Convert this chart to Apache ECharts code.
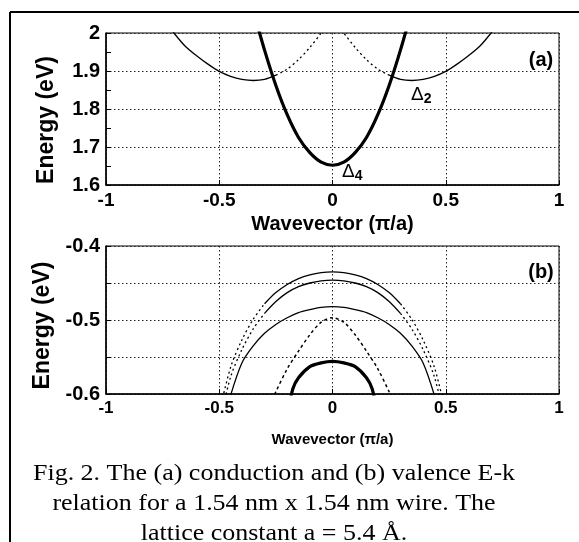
<!DOCTYPE html>
<html>
<head>
<meta charset="utf-8">
<script src="https://cdn.jsdelivr.net/npm/echarts@6/dist/echarts.min.js"></script>
<style>
  html, body { margin: 0; padding: 0; background: #fff; }
  #chart { width: 579px; height: 542px; }
</style>
</head>
<body>
<div id="chart"></div>
<script>
// (a) conduction band - thick Delta4 valley
var kDelta4 = [-0.35, -0.3, -0.25, -0.2, -0.15, -0.1, -0.05, 0, 0.05, 0.1, 0.15, 0.2, 0.25, 0.3, 0.35];
var eDelta4 = [2.06, 1.955, 1.862, 1.785, 1.725, 1.685, 1.660, 1.652, 1.660, 1.685, 1.725, 1.785, 1.862, 1.955, 2.06];
// Delta2 valleys, solid outer part and dotted inner part
var kValleyL = [-0.75, -0.7, -0.65, -0.6, -0.55, -0.5, -0.45, -0.4, -0.35, -0.3, -0.25];
var eValleyL = [2.04, 2.0, 1.965, 1.94, 1.918, 1.899, 1.886, 1.878, 1.875, 1.878, 1.889];
var kValleyLDot = [-0.25, -0.2, -0.15, -0.1, -0.05, 0];
var eValleyLDot = [1.889, 1.905, 1.93, 1.962, 2.0, 2.04];
var kValleyR = [0.25, 0.3, 0.35, 0.4, 0.45, 0.5, 0.55, 0.6, 0.65, 0.7, 0.75];
var eValleyR = [1.889, 1.878, 1.875, 1.878, 1.886, 1.899, 1.918, 1.94, 1.965, 2.0, 2.04];
var kValleyRDot = [0, 0.05, 0.1, 0.15, 0.2, 0.25];
var eValleyRDot = [2.04, 2.0, 1.962, 1.93, 1.905, 1.889];

// (b) valence bands
var kVal = [-0.5, -0.45, -0.4, -0.35, -0.3, -0.25, -0.2, -0.15, -0.1, -0.05, 0, 0.05, 0.1, 0.15, 0.2, 0.25, 0.3, 0.35, 0.4, 0.45, 0.5];
var eBandA = [-0.625, -0.564, -0.527, -0.499, -0.478, -0.463, -0.452, -0.444, -0.439, -0.436, -0.435, -0.436, -0.439, -0.444, -0.452, -0.463, -0.478, -0.499, -0.527, -0.564, -0.625];
var eBandB = [-0.64, -0.577, -0.54, -0.512, -0.491, -0.475, -0.463, -0.455, -0.45, -0.447, -0.446, -0.447, -0.45, -0.455, -0.463, -0.475, -0.491, -0.512, -0.54, -0.577, -0.64];
var eBandC = [-0.66, -0.602, -0.558, -0.535, -0.518, -0.506, -0.497, -0.49, -0.486, -0.483, -0.482, -0.483, -0.486, -0.49, -0.497, -0.506, -0.518, -0.535, -0.558, -0.602, -0.66];
var kBandD = [-0.3, -0.25, -0.2, -0.15, -0.1, -0.05, 0, 0.05, 0.1, 0.15, 0.2, 0.25, 0.3];
var eBandD = [-0.63, -0.597, -0.566, -0.542, -0.52, -0.503, -0.497, -0.503, -0.52, -0.542, -0.566, -0.597, -0.63];
var kBandE = [-0.2, -0.175, -0.15, -0.1, -0.05, 0, 0.05, 0.1, 0.15, 0.175, 0.2];
var eBandE = [-0.63, -0.593, -0.578, -0.563, -0.558, -0.556, -0.558, -0.563, -0.578, -0.593, -0.63];

var xTicks = [-1, -0.5, 0, 0.5, 1];

function pairs(ks, es, lo, hi) {
    var out = [];
    for (var i = 0; i < ks.length; i++) {
        if (ks[i] >= lo - 1e-9 && ks[i] <= hi + 1e-9) out.push([ks[i], es[i]]);
    }
    return out;
}

var font = 'Liberation Sans, Arial, sans-serif';
var solid = { color: '#000', width: 1.3 };
var dotted = { color: '#000', width: 1.3, type: [2, 3] };
var grid = { color: '#222', width: 1, type: [1.5, 2.5] };

function line(gi, data, style, smooth) {
    return {
        type: 'line', xAxisIndex: gi, yAxisIndex: gi, data: data,
        showSymbol: false, smooth: smooth === undefined ? 0.3 : smooth,
        lineStyle: style, clip: true, animation: false, silent: true
    };
}

function xAxisOf(gi, nameGap, nameSize, labelSize) {
    return {
        type: 'value', gridIndex: gi, min: -1, max: 1, interval: 0.5,
        name: 'Wavevector (\u03c0/a)', nameLocation: 'middle', nameGap: nameGap,
        nameTextStyle: { fontFamily: font, fontWeight: 'bold', fontSize: nameSize, color: '#000' },
        axisLine: { show: true, onZero: false, lineStyle: { color: '#000', width: 1.5 } },
        axisTick: { show: true, inside: true, length: 5, lineStyle: { color: '#000' } },
        axisLabel: { fontFamily: font, fontWeight: 'bold', fontSize: labelSize, color: '#000', margin: 6,
            formatter: function (v) { return xTicks.indexOf(v) >= 0 ? String(v) : ''; } },
        splitLine: { show: true, lineStyle: grid }
    };
}

function yAxisOf(gi, min, max, interval, fmt, minor, shift) {
    return {
        type: 'value', gridIndex: gi, min: min, max: max, interval: interval,
        name: 'Energy (eV)', nameLocation: 'middle', nameGap: 48,
        nameTextStyle: { fontFamily: font, fontWeight: 'bold', fontSize: 23, color: '#000', padding: [0, shift, 0, 0] },
        axisLine: { show: true, onZero: false, lineStyle: { color: '#000', width: 1.5 } },
        axisTick: { show: true, inside: true, length: 5, lineStyle: { color: '#000' } },
        minorTick: { show: minor, splitNumber: 2, length: 5, lineStyle: { color: '#000' } },
        axisLabel: { fontFamily: font, fontWeight: 'bold', fontSize: 20, color: '#000', margin: 6, formatter: fmt },
        splitLine: { show: true, lineStyle: grid }
    };
}

var chart = echarts.init(document.getElementById('chart'), null, { renderer: 'canvas' });
chart.setOption({
    backgroundColor: '#fff',
    animation: false,
    grid: [
        { left: 106, top: 33, width: 453, height: 152, show: true, borderColor: '#000', borderWidth: 1 },
        { left: 106, top: 246, width: 453, height: 148, show: true, borderColor: '#000', borderWidth: 1 }
    ],
    xAxis: [xAxisOf(0, 29, 20, 19), xAxisOf(1, 38, 15, 17)],
    yAxis: [
        yAxisOf(0, 1.6, 2, 0.1, function (v) { return String(Math.round(v * 10) / 10); }, true, 22),
        yAxisOf(1, -0.6, -0.4, 0.05, function (v) {
            var c = Math.round(v * 100);
            return c % 10 === 0 ? String(c / 100) : '';
        }, false, 11)
    ],
    series: [
        // (a)
        line(0, pairs(kValleyL, eValleyL, -1, 1), solid),
        line(0, pairs(kValleyLDot, eValleyLDot, -1, 1), dotted),
        line(0, pairs(kValleyR, eValleyR, -1, 1), solid),
        line(0, pairs(kValleyRDot, eValleyRDot, -1, 1), dotted),
        line(0, pairs(kDelta4, eDelta4, -1, 1), { color: '#000', width: 3.2 }),
        // (b)
        line(1, pairs(kVal, eBandA, -0.3, 0.3), solid),
        line(1, pairs(kVal, eBandA, -0.5, -0.3), dotted),
        line(1, pairs(kVal, eBandA, 0.3, 0.5), dotted),
        line(1, pairs(kVal, eBandB, -0.3, 0.3), solid),
        line(1, pairs(kVal, eBandB, -0.5, -0.3), dotted),
        line(1, pairs(kVal, eBandB, 0.3, 0.5), dotted),
        line(1, pairs(kVal, eBandC, -0.5, 0.5), solid),
        line(1, pairs(kBandD, eBandD, -0.5, 0.5), { color: '#000', width: 1.5, type: [3, 3] }),
        line(1, pairs(kBandE, eBandE, -0.5, 0.5), { color: '#000', width: 3.2 })
    ],
    graphic: [
        { type: 'line', shape: { x1: 10, y1: 12, x2: 579, y2: 12 }, style: { stroke: '#000', lineWidth: 2 }, silent: true },
        { type: 'line', shape: { x1: 10, y1: 12, x2: 10, y2: 542 }, style: { stroke: '#000', lineWidth: 2 }, silent: true },
        { type: 'text', x: 541, y: 60, style: { text: '(a)', font: 'bold 20px ' + font, fill: '#000', textAlign: 'center', textVerticalAlign: 'middle' } },
        { type: 'text', x: 541, y: 272, style: { text: '(b)', font: 'bold 20px ' + font, fill: '#000', textAlign: 'center', textVerticalAlign: 'middle' } },
        { type: 'text', x: 411, y: 95, style: {
            text: '{d|\u0394}{s|2}', textVerticalAlign: 'middle',
            rich: { d: { font: '19px ' + font, fill: '#000' }, s: { font: 'bold 14px ' + font, fill: '#000', padding: [9, 0, 0, 0] } } } },
        { type: 'text', x: 342, y: 172, style: {
            text: '{d|\u0394}{s|4}', textVerticalAlign: 'middle',
            rich: { d: { font: '19px ' + font, fill: '#000' }, s: { font: 'bold 14px ' + font, fill: '#000', padding: [9, 0, 0, 0] } } } },
        { type: 'text', x: 274, y: 504, scaleX: 1.13, style: {
            text: 'Fig. 2. The (a) conduction and (b) valence E-k\nrelation for a 1.54 nm x 1.54 nm wire. The\nlattice constant a = 5.4 \u00c5.',
            font: '23px Liberation Serif, Times New Roman, serif', fill: '#000', lineHeight: 30,
            textAlign: 'center', textVerticalAlign: 'middle' } }
    ]
});
</script>
</body>
</html>
